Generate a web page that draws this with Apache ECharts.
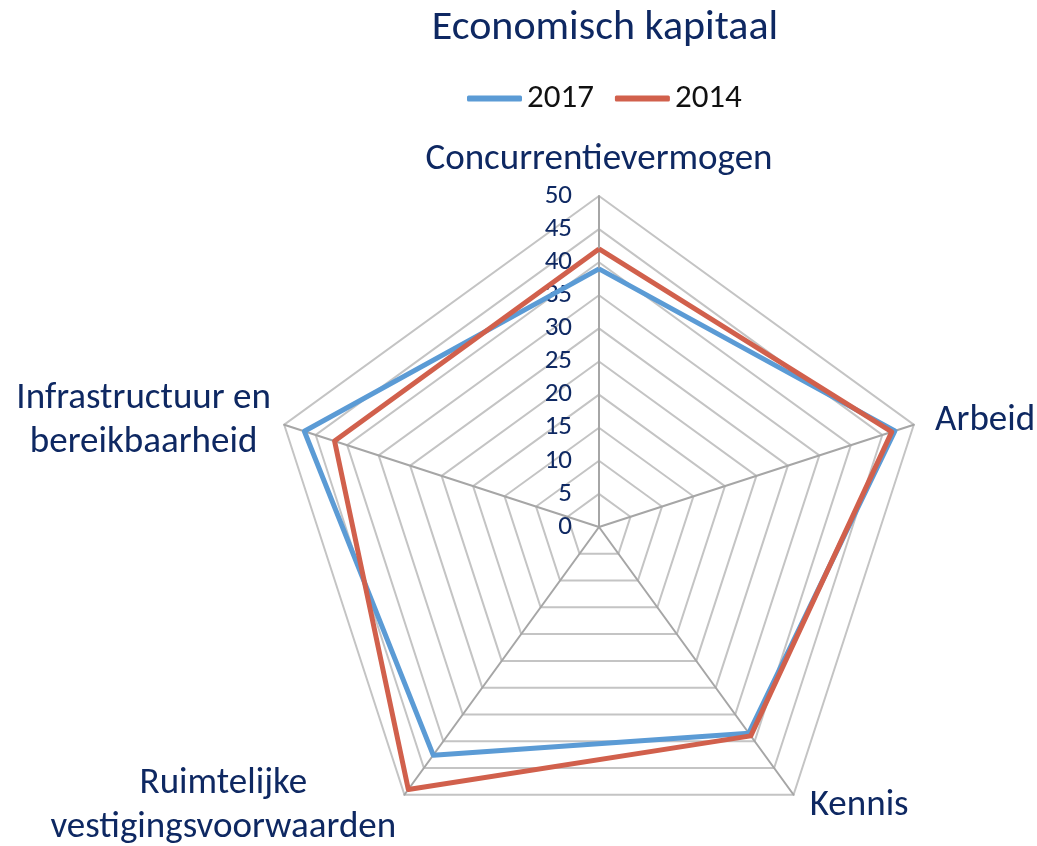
<!DOCTYPE html>
<html>
<head>
<meta charset="utf-8">
<script src="https://cdn.jsdelivr.net/npm/echarts@6/dist/echarts.min.js"></script>
<style>
  html, body { margin: 0; padding: 0; background: #fff; }
  #chart { width: 1037px; height: 846px; }
</style>
</head>
<body>
<div id="chart"></div>
<script>
// ECharts zet de assen tegen de klok in, dus volgorde: boven, links, linksonder, rechtsonder, rechts
var categories = ['Concurrentievermogen', 'Infrastructuur en\nbereikbaarheid', 'Ruimtelijke\nvestigingsvoorwaarden', 'Kennis', 'Arbeid']
var values2017 = [39, 46.8, 42.6, 38.5, 47]
var values2014 = [42, 42, 49, 39, 46.5]
var seriesNames = ['2017', '2014']
var axisMax = 50

var font = 'Carlito, Lato, sans-serif'
var navy = '#0E2862'
// namen rechts van het midden staan in het origineel iets verder weg
var rightSide = ['Kennis', 'Arbeid']

var myChart = echarts.init(document.getElementById('chart'))

var indicators = categories.map(function (name, i) {
	var ind = { name: name, max: axisMax, min: 0 }
	if (i === 0) {
		ind.axisLabel = { show: true }
	}
	return ind
})

var option = {
	backgroundColor: '#fff',
	title: {
		text: 'Economisch kapitaal',
		left: 600,
		textAlign: 'center',
		top: 2,
		textStyle: { fontFamily: font, fontSize: 42, fontWeight: 'normal', color: navy }
	},
	legend: {
		data: seriesNames,
		top: 77,
		left: 462,
		icon: 'roundRect',
		itemWidth: 55,
		itemHeight: 6,
		itemGap: 21,
		textStyle: { fontFamily: font, fontSize: 33, color: '#111' }
	},
	radar: {
		center: [599, 527],
		radius: 331,
		startAngle: 90,
		shape: 'polygon',
		splitNumber: 10,
		indicator: indicators,
		nameGap: 14,
		axisName: {
			color: navy,
			fontFamily: font,
			fontSize: 37,
			formatter: function (name) {
				var tag = rightSide.indexOf(name) >= 0 ? 'r' : 'c'
				return name.split('\n').map(function (s) { return '{' + tag + '|' + s + '}' }).join('\n')
			},
			rich: {
				c: { align: 'center', fontFamily: font, fontSize: 37, color: navy, lineHeight: 44 },
				r: { fontFamily: font, fontSize: 37, color: navy, lineHeight: 44, padding: [0, 0, 0, 8] }
			}
		},
		axisLine: { lineStyle: { color: '#a6a6a6', width: 2 } },
		splitLine: { lineStyle: { color: '#c4c4c4', width: 2 } },
		splitArea: { show: false },
		axisTick: { show: false },
		axisLabel: {
			show: false,
			color: navy,
			fontFamily: font,
			fontSize: 27,
			margin: 27
		}
	},
	series: [{
		type: 'radar',
		symbol: 'none',
		data: [
			{ name: seriesNames[0], value: values2017, lineStyle: { color: '#5B9BD5', width: 5 }, itemStyle: { color: '#5B9BD5' } },
			{ name: seriesNames[1], value: values2014, lineStyle: { color: '#D1604C', width: 5 }, itemStyle: { color: '#D1604C' } }
		]
	}]
}
myChart.setOption(option)
</script>
</body>
</html>
